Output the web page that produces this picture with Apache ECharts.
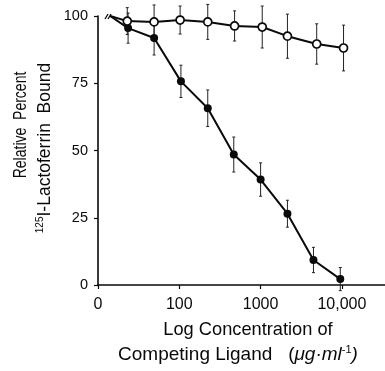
<!DOCTYPE html>
<html><head><meta charset="utf-8">
<script src="https://cdn.jsdelivr.net/npm/echarts@6/dist/echarts.min.js"></script>
<style>html,body{margin:0;padding:0;background:#fff}#c{width:385px;height:371px}</style>
</head><body><div id="c"></div>
<script>
// x values are log10 of concentration; position 1 is labelled "0"
const xTicks = [1, 2, 3, 4];
const xTickLabels = ['0', '100', '1000', '10,000'];
const yTicks = [0, 25, 50, 75, 100];

const startPoint = [1.15, 100];

const openX   = [1.36, 1.69, 2.01, 2.35, 2.68, 3.02, 3.33, 3.69, 4.02];
const openY   = [98.1, 97.8, 98.5, 97.8, 96.3, 95.9, 92.5, 89.6, 88.1];
const openErr = [5.0, 6.3, 5.2, 6.5, 5.6, 7.8, 8.2, 7.5, 8.5];

const filledX   = [1.37, 1.69, 2.02, 2.35, 2.67, 3.00, 3.33, 3.65, 3.98];
const filledY   = [95.5, 91.8, 75.7, 65.7, 48.5, 39.2, 26.5, 9.3, 2.2];
const filledErr = [5.6, 6.3, 6.0, 6.8, 6.5, 6.2, 5.0, 4.7, 4.3];

const FONT = '"Liberation Sans", Arial, sans-serif';
const INK = '#0a0a0a';

function lineData(xs, ys) {
  const d = [{ value: startPoint, symbol: 'none' }];
  xs.forEach((x, i) => d.push([x, ys[i]]));
  return d;
}
function errData(xs, ys, es) {
  return xs.map((x, i) => [x, ys[i] - es[i], ys[i] + es[i]]);
}
function renderErr(params, api) {
  const x = api.value(0);
  const lo = api.coord([x, api.value(1)]);
  const hi = api.coord([x, api.value(2)]);
  const c = 1.5;
  const st = { stroke: '#222', lineWidth: 1 };
  return { type: 'group', children: [
    { type: 'line', shape: { x1: lo[0], y1: lo[1], x2: hi[0], y2: hi[1] }, style: st },
    { type: 'line', shape: { x1: lo[0] - c, y1: lo[1], x2: lo[0] + c, y2: lo[1] }, style: st },
    { type: 'line', shape: { x1: hi[0] - c, y1: hi[1], x2: hi[0] + c, y2: hi[1] }, style: st }
  ]};
}

const chart = echarts.init(document.getElementById('c'), null, { renderer: 'canvas' });
chart.setOption({
  animation: false,
  grid: { left: 98, top: 16, right: 0, bottom: 86, containLabel: false },
  xAxis: {
    type: 'value', min: 1, max: 4.53,
    axisLine: { lineStyle: { color: INK, width: 1.6 } },
    axisTick: { customValues: xTicks, length: 4, lineStyle: { color: INK, width: 1.2 } },
    axisLabel: { customValues: xTicks, margin: 12, color: INK, fontSize: 16, fontFamily: FONT,
      formatter: v => xTickLabels[xTicks.indexOf(v)] || '' },
    splitLine: { show: false }
  },
  yAxis: {
    type: 'value', min: 0, max: 100, interval: 25,
    axisLine: { show: true, lineStyle: { color: INK, width: 1.6 } },
    axisTick: { show: true, length: 4, lineStyle: { color: INK, width: 1.2 } },
    axisLabel: { margin: 10, color: INK, fontSize: 14.5, fontFamily: FONT },
    splitLine: { show: false }
  },
  series: [
    { type: 'custom', renderItem: renderErr, data: errData(openX, openY, openErr), clip: false, z: 1 },
    { type: 'custom', renderItem: renderErr, data: errData(filledX, filledY, filledErr), clip: false, z: 1 },
    { type: 'line', data: lineData(openX, openY), symbol: 'circle', symbolSize: 8,
      lineStyle: { color: INK, width: 2 },
      itemStyle: { color: '#fff', borderColor: INK, borderWidth: 1.7 }, z: 3 },
    { type: 'line', data: lineData(filledX, filledY), symbol: 'circle', symbolSize: 8,
      lineStyle: { color: INK, width: 2 },
      itemStyle: { color: INK }, z: 2 }
  ]
});

const p0 = chart.convertToPixel({ gridIndex: 0 }, [1, 100]);
chart.setOption({
  graphic: [
    { type: 'group', x: p0[0] + 8, y: p0[1], children: [
      { type: 'line', shape: { x1: -1, y1: 3, x2: 2, y2: -2 }, style: { stroke: INK, lineWidth: 1.3 } },
      { type: 'line', shape: { x1: 2, y1: 3, x2: 5, y2: -2 }, style: { stroke: INK, lineWidth: 1.3 } }
    ]},
    { type: 'text', x: 248, y: 330, scaleX: 0.96, style: { text: 'Log Concentration of', font: '19px ' + FONT,
      fill: INK, textAlign: 'center', textVerticalAlign: 'middle' } },
    { type: 'text', x: 238, y: 355, scaleX: 1.0, style: {
      text: 'Competing Ligand   ({g|μg·ml}{s|-1}{g|)}', font: '19px ' + FONT, fill: INK,
      textAlign: 'center', textVerticalAlign: 'middle',
      rich: { g: { font: 'italic 19px ' + FONT, fill: INK }, s: { fontSize: 11, fontFamily: FONT, fill: INK, padding: [0, 0, 10, 0] } } } },
    { type: 'text', x: 21, y: 125, rotation: Math.PI / 2, scaleX: 0.8, style: { text: 'Relative  Percent', font: '17.5px ' + FONT,
      fill: INK, textAlign: 'center', textVerticalAlign: 'middle' } },
    { type: 'text', x: 45, y: 148, rotation: Math.PI / 2, scaleX: 1.0, style: {
      text: '{s|125}I-Lactoferrin  Bound', font: '17.5px ' + FONT, fill: INK,
      textAlign: 'center', textVerticalAlign: 'middle',
      rich: { s: { fontSize: 10, fontFamily: FONT, fill: INK, padding: [0, 0, 9, 0] } } } }
  ]
});
</script></body></html>
